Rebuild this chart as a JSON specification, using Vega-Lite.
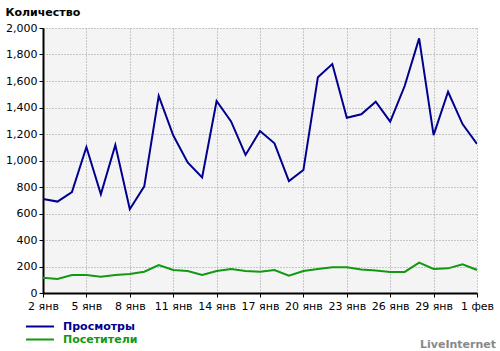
{
  "$schema": "https://vega.github.io/schema/vega-lite/v6.json",
  "width": 434,
  "height": 265,
  "autosize": "none",
  "padding": {"left": 43, "top": 28, "right": 23, "bottom": 58},
  "background": "white",
  "view": {"fill": "#f4f4f4", "stroke": null},
  "title": {
    "text": "LiveInternet",
    "orient": "bottom",
    "anchor": "end",
    "frame": "group",
    "offset": -6,
    "dx": 19,
    "font": "DejaVu Sans",
    "fontSize": 11,
    "fontWeight": "bold",
    "color": "#888888"
  },
  "config": {
    "font": "DejaVu Sans",
    "axis": {
      "labelFont": "DejaVu Sans",
      "labelFontSize": 11,
      "labelColor": "#000000",
      "domainColor": "#000000",
      "domainWidth": 2,
      "tickColor": "#000000",
      "tickSize": 4,
      "tickWidth": 1,
      "gridColor": "#999999",
      "gridDash": [1, 2],
      "gridWidth": 1
    }
  },
  "data": {
    "values": [
      {"date": "2011-01-02", "series": "Просмотры", "value": 710},
      {"date": "2011-01-03", "series": "Просмотры", "value": 690},
      {"date": "2011-01-04", "series": "Просмотры", "value": 762},
      {"date": "2011-01-05", "series": "Просмотры", "value": 1102},
      {"date": "2011-01-06", "series": "Просмотры", "value": 745},
      {"date": "2011-01-07", "series": "Просмотры", "value": 1117},
      {"date": "2011-01-08", "series": "Просмотры", "value": 632},
      {"date": "2011-01-09", "series": "Просмотры", "value": 805},
      {"date": "2011-01-10", "series": "Просмотры", "value": 1488},
      {"date": "2011-01-11", "series": "Просмотры", "value": 1190},
      {"date": "2011-01-12", "series": "Просмотры", "value": 985},
      {"date": "2011-01-13", "series": "Просмотры", "value": 873},
      {"date": "2011-01-14", "series": "Просмотры", "value": 1449},
      {"date": "2011-01-15", "series": "Просмотры", "value": 1295},
      {"date": "2011-01-16", "series": "Просмотры", "value": 1042},
      {"date": "2011-01-17", "series": "Просмотры", "value": 1223},
      {"date": "2011-01-18", "series": "Просмотры", "value": 1130},
      {"date": "2011-01-19", "series": "Просмотры", "value": 845},
      {"date": "2011-01-20", "series": "Просмотры", "value": 928},
      {"date": "2011-01-21", "series": "Просмотры", "value": 1628},
      {"date": "2011-01-22", "series": "Просмотры", "value": 1728},
      {"date": "2011-01-23", "series": "Просмотры", "value": 1323},
      {"date": "2011-01-24", "series": "Просмотры", "value": 1349},
      {"date": "2011-01-25", "series": "Просмотры", "value": 1444},
      {"date": "2011-01-26", "series": "Просмотры", "value": 1293},
      {"date": "2011-01-27", "series": "Просмотры", "value": 1562},
      {"date": "2011-01-28", "series": "Просмотры", "value": 1922},
      {"date": "2011-01-29", "series": "Просмотры", "value": 1192},
      {"date": "2011-01-30", "series": "Просмотры", "value": 1519},
      {"date": "2011-01-31", "series": "Просмотры", "value": 1275},
      {"date": "2011-02-01", "series": "Просмотры", "value": 1125},
      {"date": "2011-01-02", "series": "Посетители", "value": 116},
      {"date": "2011-01-03", "series": "Посетители", "value": 106},
      {"date": "2011-01-04", "series": "Посетители", "value": 136},
      {"date": "2011-01-05", "series": "Посетители", "value": 136},
      {"date": "2011-01-06", "series": "Посетители", "value": 123},
      {"date": "2011-01-07", "series": "Посетители", "value": 136},
      {"date": "2011-01-08", "series": "Посетители", "value": 143},
      {"date": "2011-01-09", "series": "Посетители", "value": 161},
      {"date": "2011-01-10", "series": "Посетители", "value": 211},
      {"date": "2011-01-11", "series": "Посетители", "value": 174},
      {"date": "2011-01-12", "series": "Посетители", "value": 166},
      {"date": "2011-01-13", "series": "Посетители", "value": 136},
      {"date": "2011-01-14", "series": "Посетители", "value": 166},
      {"date": "2011-01-15", "series": "Посетители", "value": 181},
      {"date": "2011-01-16", "series": "Посетители", "value": 166},
      {"date": "2011-01-17", "series": "Посетители", "value": 161},
      {"date": "2011-01-18", "series": "Посетители", "value": 174},
      {"date": "2011-01-19", "series": "Посетители", "value": 131},
      {"date": "2011-01-20", "series": "Посетители", "value": 166},
      {"date": "2011-01-21", "series": "Посетители", "value": 181},
      {"date": "2011-01-22", "series": "Посетители", "value": 194},
      {"date": "2011-01-23", "series": "Посетители", "value": 194},
      {"date": "2011-01-24", "series": "Посетители", "value": 178},
      {"date": "2011-01-25", "series": "Посетители", "value": 169},
      {"date": "2011-01-26", "series": "Посетители", "value": 159},
      {"date": "2011-01-27", "series": "Посетители", "value": 159},
      {"date": "2011-01-28", "series": "Посетители", "value": 229},
      {"date": "2011-01-29", "series": "Посетители", "value": 181},
      {"date": "2011-01-30", "series": "Посетители", "value": 186},
      {"date": "2011-01-31", "series": "Посетители", "value": 216},
      {"date": "2011-02-01", "series": "Посетители", "value": 174}
    ]
  },
  "mark": {"type": "line", "strokeWidth": 2, "clip": true},
  "encoding": {
    "x": {
      "field": "date",
      "type": "temporal",
      "scale": {"type": "utc", "domain": [{"year": 2011, "month": 1, "date": 2, "utc": true}, {"year": 2011, "month": 2, "date": 1, "utc": true}], "nice": false},
      "axis": {
        "title": null,
        "values": [
          {"year": 2011, "month": 1, "date": 2, "utc": true},
          {"year": 2011, "month": 1, "date": 5, "utc": true},
          {"year": 2011, "month": 1, "date": 8, "utc": true},
          {"year": 2011, "month": 1, "date": 11, "utc": true},
          {"year": 2011, "month": 1, "date": 14, "utc": true},
          {"year": 2011, "month": 1, "date": 17, "utc": true},
          {"year": 2011, "month": 1, "date": 20, "utc": true},
          {"year": 2011, "month": 1, "date": 23, "utc": true},
          {"year": 2011, "month": 1, "date": 26, "utc": true},
          {"year": 2011, "month": 1, "date": 29, "utc": true},
          {"year": 2011, "month": 2, "date": 1, "utc": true}
        ],
        "labelExpr": "utcdate(datum.value) + ' ' + (utcmonth(datum.value) == 0 ? 'янв' : 'фев')",
        "labelPadding": 3,
        "labelFlush": false,
        "labelOverlap": false,
        "grid": true
      }
    },
    "y": {
      "field": "value",
      "type": "quantitative",
      "scale": {"domain": [0, 2000], "nice": false},
      "axis": {
        "title": "Количество",
        "titleAngle": 0,
        "titleAlign": "left",
        "titleBaseline": "middle",
        "titleX": -38,
        "titleY": -16,
        "titleFont": "DejaVu Sans",
        "titleFontSize": 11,
        "titleFontWeight": "bold",
        "titleColor": "#000000",
        "values": [0, 200, 400, 600, 800, 1000, 1200, 1400, 1600, 1800, 2000],
        "format": ",d",
        "labelPadding": 2,
        "grid": true
      }
    },
    "color": {
      "field": "series",
      "type": "nominal",
      "sort": ["Просмотры", "Посетители"],
      "scale": {"domain": ["Просмотры", "Посетители"], "range": ["#00008f", "#119911"]},
      "legend": {
        "title": null,
        "orient": "none",
        "legendX": -18,
        "legendY": 291,
        "symbolType": "M-1,0H3.3",
        "symbolSize": 169,
        "symbolStrokeWidth": 2,
        "labelFont": "DejaVu Sans",
        "labelFontSize": 11,
        "labelFontWeight": "bold",
        "labelColor": {"expr": "datum.value == 'Просмотры' ? '#00008f' : '#119911'"},
        "labelOffset": 23,
        "rowPadding": 0
      }
    }
  }
}
